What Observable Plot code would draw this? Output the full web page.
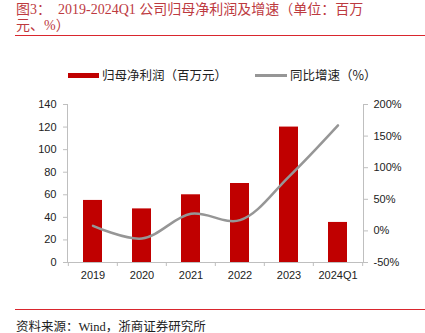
<!DOCTYPE html>
<html><head><meta charset="utf-8">
<script src="https://cdn.jsdelivr.net/npm/d3@7"></script>
<script src="https://cdn.jsdelivr.net/npm/@observablehq/plot@0.6"></script>
<style>
body{margin:0;width:425px;height:333px;background:#fff;position:relative;overflow:hidden;font-family:"Liberation Sans",Arial,"Noto Sans CJK SC",sans-serif}
#title{position:absolute;left:16px;top:2px;width:380px;font-family:"Liberation Serif","Noto Sans CJK SC",serif;font-size:14px;line-height:16px;color:#bd3a3f}
#rule1{position:absolute;left:15px;right:0;top:35px;height:1px;background:#d9272e}
#legend{position:absolute;left:0;top:66px;width:425px;height:18px;font-family:"Noto Sans CJK SC",sans-serif;font-size:12.5px;color:#222}
.sw{position:absolute}
.lt{position:absolute;top:0;line-height:18px;white-space:nowrap}
#chart{position:absolute;left:0;top:90px}
#rule2{position:absolute;left:15px;right:0;top:309px;height:1px;background:#d9272e}
#source{position:absolute;left:16px;top:316px;font-family:"Liberation Serif","Noto Sans CJK SC",serif;font-size:12.5px;color:#222;white-space:nowrap}
</style></head>
<body>
<div id="title">图3：&nbsp; 2019-2024Q1 公司归母净利润及增速（单位：百万<br>元、%）</div>
<div id="rule1"></div>
<div id="legend">
  <div class="sw" style="left:68px;top:7px;width:31px;height:5px;background:#c00000"></div>
  <div class="lt" style="left:102px">归母净利润（百万元）</div>
  <div class="sw" style="left:255px;top:8px;width:32px;height:2.5px;background:#969696"></div>
  <div class="lt" style="left:290px">同比增速（%）</div>
</div>
<div id="chart"></div>
<div id="rule2"></div>
<div id="source">资料来源：Wind，浙商证券研究所</div>
<script>
const categories = ["2019","2020","2021","2022","2023","2024Q1"];
const profit = [55, 47.5, 60, 70, 120, 35.5];
const growth = [8, -12, 27, 17, 86, 167];
const leftTicks = [0,20,40,60,80,100,120,140];
const rightTicks = [-50,0,50,100,150,200];

const toLeft = p => (p + 50) * 140 / 250;
const data = categories.map((c,i)=>({cat:c, profit:profit[i], g:growth[i]}));
const W = 425, ML = 67, MR = 62;
const halfStep = (W - ML - MR) / categories.length / 2;

const chart = Plot.plot({
  width:W, height:205,
  marginLeft:ML, marginRight:MR, marginTop:14, marginBottom:33,
  style:{fontFamily:"Liberation Sans, Arial, sans-serif", fontSize:"11px", color:"#222"},
  x:{domain:categories, paddingInner:0.61, paddingOuter:0.305, label:null},
  y:{domain:[0,140], label:null},
  marks:[
    Plot.barY(data,{x:"cat", y:"profit", fill:"#c00000"}),
    Plot.line(data,{x:"cat", y:d=>toLeft(d.g), stroke:"#969696", strokeWidth:2.5, curve:"catmull-rom"}),
    Plot.frame({anchor:"left", stroke:"#bfbfbf"}),
    Plot.frame({anchor:"right", stroke:"#bfbfbf"}),
    Plot.frame({anchor:"bottom", stroke:"#bfbfbf"}),
    Plot.axisY({ticks:leftTicks, anchor:"left", tickSize:4, tickPadding:7, stroke:"#bfbfbf", label:null, fill:"#222"}),
    Plot.axisY({ticks:rightTicks.map(toLeft), anchor:"right", tickSize:4, tickPadding:6, tickFormat:v=>Math.round(v*250/140-50)+"%", stroke:"#bfbfbf", label:null, fill:"#222"}),
    Plot.axisX({tickSize:0, tickPadding:9, label:null, fill:"#222"}),
    Plot.axisX({tickSize:4, tickFormat:()=>"", dx:-halfStep, stroke:"#bfbfbf", label:null}),
    Plot.axisX({ticks:[categories[categories.length-1]], tickSize:4, tickFormat:()=>"", dx:halfStep, stroke:"#bfbfbf", label:null})
  ]
});
document.getElementById("chart").appendChild(chart);
</script>
</body></html>
